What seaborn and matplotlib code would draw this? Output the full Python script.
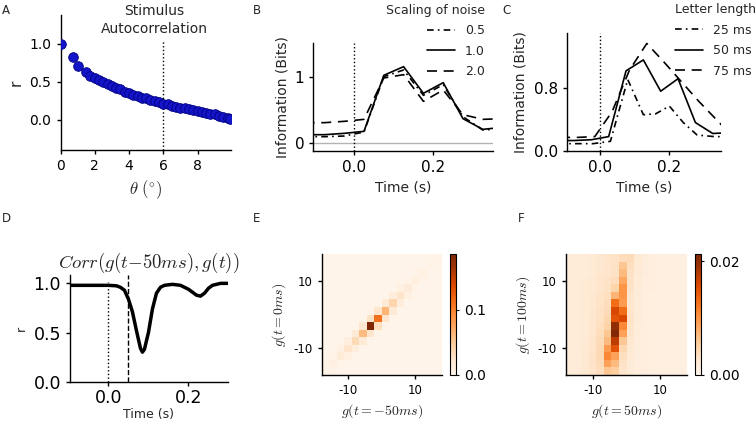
import numpy as np
import pandas as pd
import matplotlib
matplotlib.use("Agg")
import matplotlib.pyplot as plt
import seaborn as sns

# A: stimulus autocorrelation
theta_deg = [0.0, 0.75, 1.0, 1.5, 1.75, 2.0, 2.25, 2.5, 2.75, 3.0, 3.25, 3.5, 3.75,
             4.0, 4.25, 4.5, 4.75, 5.0, 5.25, 5.5, 5.75, 6.0, 6.25, 6.5, 6.75, 7.0,
             7.25, 7.5, 7.75, 8.0, 8.25, 8.5, 8.75, 9.0, 9.25, 9.5, 9.75, 9.9]
r_auto = [1.0, 0.83, 0.71, 0.63, 0.58, 0.55, 0.52, 0.50, 0.47, 0.45, 0.42, 0.40, 0.37,
          0.35, 0.33, 0.31, 0.29, 0.28, 0.26, 0.25, 0.23, 0.21, 0.20, 0.18, 0.17, 0.16,
          0.15, 0.14, 0.13, 0.12, 0.10, 0.09, 0.08, 0.07, 0.05, 0.04, 0.02, 0.01]

# B: information for different noise scalings
t_bins = [-0.125, -0.075, -0.025, 0.025, 0.075, 0.125, 0.175, 0.225, 0.275, 0.325, 0.375]
info_noise_05 = [0.10, 0.10, 0.11, 0.17, 1.00, 1.10, 0.72, 0.88, 0.40, 0.20, 0.22]
info_noise_10 = [0.13, 0.13, 0.15, 0.18, 1.02, 1.15, 0.75, 0.91, 0.37, 0.21, 0.24]
info_noise_20 = [0.31, 0.31, 0.33, 0.36, 0.98, 1.03, 0.63, 0.80, 0.43, 0.36, 0.37]

# C: information for different letter lengths
t_letter_25 = [-0.12, -0.02, 0.03, 0.08, 0.125, 0.16, 0.2, 0.24, 0.28, 0.33, 0.38]
info_letter_25 = [0.09, 0.09, 0.12, 0.91, 0.46, 0.47, 0.57, 0.36, 0.20, 0.18, 0.18]
info_letter_50 = [0.13, 0.13, 0.14, 0.18, 1.02, 1.16, 0.76, 0.92, 0.36, 0.22, 0.23]
t_letter_75 = [-0.115, -0.065, -0.015, 0.035, 0.085, 0.135, 0.185, 0.235, 0.285, 0.335, 0.385]
info_letter_75 = [0.17, 0.17, 0.18, 0.50, 1.03, 1.37, 1.13, 0.88, 0.63, 0.40, 0.17]

# D: correlation of g(t-50ms) with g(t)
t_corr = [-0.1, -0.05, 0.0, 0.02, 0.03, 0.04, 0.05, 0.06, 0.07, 0.08, 0.085, 0.09, 0.1,
          0.11, 0.12, 0.13, 0.14, 0.16, 0.18, 0.2, 0.21, 0.22, 0.23, 0.24, 0.25, 0.26,
          0.28, 0.3]
r_corr = [0.98, 0.98, 0.98, 0.975, 0.96, 0.93, 0.84, 0.71, 0.52, 0.34, 0.30, 0.33, 0.50,
          0.74, 0.90, 0.96, 0.98, 0.99, 0.98, 0.94, 0.91, 0.88, 0.87, 0.90, 0.95, 0.98,
          1.0, 1.0]

# E/F: joint histograms of g on a 16x16 grid
g_lo, g_hi, n_bins = -18.0, 18.0, 16
e_background = 0.002
e_diag = [0.005, 0.009, 0.015, 0.024, 0.035, 0.06, 0.185, 0.11, 0.065, 0.04,
          0.026, 0.016, 0.01, 0.006, 0.004, 0.003]
e_above = [0.003, 0.005, 0.008, 0.011, 0.016, 0.022, 0.028, 0.024, 0.018, 0.012,
           0.008, 0.005, 0.003, 0.002, 0.002]
e_below = [0.003, 0.005, 0.008, 0.011, 0.016, 0.024, 0.03, 0.024, 0.018, 0.012,
           0.008, 0.005, 0.003, 0.002, 0.002]

# rows from top (high g) to bottom, values x1e-4
f_rows = [
    [18, 18, 18, 20, 25, 28, 30, 38, 40, 22, 14, 12, 10, 10, 10, 10],
    [18, 18, 18, 20, 25, 28, 32, 60, 35, 20, 14, 12, 10, 10, 10, 10],
    [18, 18, 18, 20, 26, 28, 32, 70, 32, 20, 14, 12, 10, 10, 10, 10],
    [18, 18, 20, 22, 28, 30, 38, 85, 30, 18, 13, 12, 10, 10, 10, 10],
    [18, 18, 20, 22, 28, 32, 48, 100, 30, 18, 13, 12, 10, 10, 10, 10],
    [18, 18, 20, 24, 30, 35, 75, 100, 26, 16, 12, 11, 10, 10, 10, 10],
    [18, 18, 20, 24, 30, 38, 130, 95, 26, 16, 12, 11, 10, 10, 10, 10],
    [18, 18, 20, 25, 32, 40, 160, 130, 28, 16, 12, 11, 10, 10, 10, 10],
    [18, 18, 20, 25, 32, 45, 150, 160, 30, 16, 12, 11, 10, 10, 10, 10],
    [18, 18, 20, 26, 35, 50, 200, 110, 28, 15, 12, 11, 10, 10, 10, 10],
    [18, 18, 20, 26, 38, 60, 210, 90, 26, 15, 12, 11, 10, 10, 10, 10],
    [18, 18, 20, 28, 40, 70, 175, 60, 24, 14, 12, 11, 10, 10, 10, 10],
    [18, 18, 22, 28, 42, 95, 150, 45, 22, 14, 12, 11, 10, 10, 10, 10],
    [18, 18, 22, 30, 42, 110, 90, 35, 20, 14, 12, 11, 10, 10, 10, 10],
    [18, 18, 22, 30, 40, 90, 70, 30, 18, 13, 12, 11, 10, 10, 10, 10],
    [18, 18, 22, 28, 36, 60, 55, 28, 18, 13, 12, 11, 10, 10, 10, 10],
]

sns.set_style("ticks")
plt.rcParams['font.family'] = ['DejaVu Sans']
plt.rcParams['mathtext.fontset'] = 'cm'
plt.rcParams['axes.edgecolor'] = 'black'
plt.rcParams['axes.linewidth'] = 1.0
plt.rcParams['xtick.color'] = 'black'
plt.rcParams['ytick.color'] = 'black'

W, H = 756, 425
fig = plt.figure(figsize=(W / 100, H / 100), dpi=100)


def px_axes(l, r, t, b):
    return fig.add_axes([l / W, 1 - b / H, (r - l) / W, (b - t) / H])


def style_ticks(ax, size):
    ax.tick_params(labelsize=size, length=3, width=1)


dashdot = (0, (4, 2.5, 1, 2.5))
dashed = (0, (6, 4))

# ---- A
axA = px_axes(60.5, 231, 15, 150)
sns.scatterplot(x=theta_deg, y=r_auto, ax=axA, color='#1414c8', edgecolor='#000080',
                s=48, linewidth=0.6, zorder=3)
axA.axvline(6, ymax=0.81, color='k', ls=':', lw=1)
axA.set_xlim(0, 9.95)
axA.set_ylim(-0.4, 1.38)
axA.set_xticks([0, 2, 4, 6, 8])
axA.set_yticks([0.0, 0.5, 1.0])
axA.set_xlabel(r"$\theta\ (^{\circ})$", fontsize=12)
axA.set_ylabel("r", fontsize=11)
axA.text(0.548, 0.962, "Stimulus\nAutocorrelation", transform=axA.transAxes,
         ha='center', va='center', fontsize=10, linespacing=1.35)
style_ticks(axA, 10)

# ---- B
axB = px_axes(313.3, 492.7, 43.3, 150.7)
axB.axhline(0, color='0.7', lw=1)
axB.axvline(0, color='k', ls=':', lw=1)
sns.lineplot(x=t_bins, y=info_noise_05, ax=axB, color='k', lw=1.2, linestyle=dashdot, label='0.5')
sns.lineplot(x=t_bins, y=info_noise_10, ax=axB, color='k', lw=1.2, label='1.0')
sns.lineplot(x=t_bins, y=info_noise_20, ax=axB, color='k', lw=1.2, linestyle=dashed, label='2.0')
axB.set_xlim(-0.103, 0.35)
axB.set_ylim(-0.11, 1.5)
axB.set_xticks([0.0, 0.2])
axB.set_yticks([0, 1])
axB.set_xlabel("Time (s)", fontsize=10)
axB.set_ylabel("Information (Bits)", fontsize=10)
axB.legend(title="Scaling of noise", loc='upper right', bbox_to_anchor=(0.955, 1.37),
           frameon=False, fontsize=9, title_fontsize=9, handlelength=2.2,
           labelspacing=0.6, borderpad=0, borderaxespad=0, alignment='right')
style_ticks(axB, 11)

# ---- C
axC = px_axes(566.7, 720.7, 33.3, 150.7)
axC.axvline(0, color='k', ls=':', lw=1)
sns.lineplot(x=t_letter_25, y=info_letter_25, ax=axC, color='k', lw=1.2, linestyle=dashdot, label='25 ms')
sns.lineplot(x=t_bins, y=info_letter_50, ax=axC, color='k', lw=1.2, label='50 ms')
sns.lineplot(x=t_letter_75, y=info_letter_75, ax=axC, color='k', lw=1.2, linestyle=dashed, label='75 ms')
axC.set_xlim(-0.096, 0.348)
axC.set_ylim(0, 1.5)
axC.set_xticks([0.0, 0.2])
axC.set_yticks([0.0, 0.8])
axC.set_xlabel("Time (s)", fontsize=10)
axC.set_ylabel("Information (Bits)", fontsize=10)
axC.legend(title="Letter length", loc='upper left', bbox_to_anchor=(0.705, 1.258),
           frameon=False, fontsize=9, title_fontsize=9, handlelength=2.2,
           labelspacing=0.6, borderpad=0, borderaxespad=0, alignment='left')
style_ticks(axC, 11)

# ---- D
axD = px_axes(70, 227.7, 275, 381.7)
axD.axvline(0, ymax=0.93, color='k', ls=':', lw=1)
axD.axvline(0.05, color='k', ls='--', lw=1)
sns.lineplot(x=t_corr, y=r_corr, ax=axD, color='k', lw=2.5)
axD.set_xlim(-0.096, 0.298)
axD.set_ylim(0, 1.085)
axD.set_xticks([0.0, 0.2])
axD.set_yticks([0.0, 0.5, 1.0])
axD.set_xlabel("Time (s)", fontsize=9, labelpad=1)
axD.set_ylabel("r", fontsize=9)
axD.set_title(r"$Corr(g(t{-}50ms),g(t))$", fontsize=13.5, pad=3)
style_ticks(axD, 12.5)
axD.tick_params(axis='x', pad=2)

# ---- E / F heatmaps
bin_w = (g_hi - g_lo) / n_bins
e_mat = np.full((n_bins, n_bins), e_background)
for k, v in enumerate(e_diag):
    e_mat[n_bins - 1 - k, k] = v
for k, v in enumerate(e_above):
    e_mat[n_bins - 2 - k, k] = v
for k, v in enumerate(e_below):
    e_mat[n_bins - 1 - k, k + 1] = v
f_mat = np.array(f_rows) * 1e-4


def draw_joint(ax, cax, mat, vmax, cticks, clabels, xlabel, ylabel):
    sns.heatmap(pd.DataFrame(mat), ax=ax, cbar_ax=cax, cmap='Oranges', vmin=0, vmax=vmax,
                xticklabels=False, yticklabels=False)
    for side in ['left', 'bottom']:
        ax.spines[side].set_visible(True)
        ax.spines[side].set_color('black')
    ticks = np.array([-10, 10])
    ax.set_xticks((ticks - g_lo) / bin_w)
    ax.set_xticklabels(['-10', '10'])
    ax.set_yticks((g_hi - ticks) / bin_w)
    ax.set_yticklabels(['-10', '10'])
    ax.tick_params(left=True, bottom=True, labelsize=8.5, length=3, width=1)
    ax.set_xlabel(xlabel, fontsize=10)
    ax.set_ylabel(ylabel, fontsize=10)
    cb = ax.collections[0].colorbar
    cb.outline.set_visible(True)
    cb.outline.set_linewidth(0.8)
    cb.outline.set_edgecolor('black')
    cb.set_ticks(cticks)
    cb.set_ticklabels(clabels)
    cax.tick_params(labelsize=10, length=2)


axE = px_axes(321.7, 441.7, 254, 375)
caxE = px_axes(450, 456, 254, 375)
draw_joint(axE, caxE, e_mat, 0.185, [0, 0.1], ['0.0', '0.1'],
           r"$g(t{=}{-}50ms)$", r"$g(t{=}0ms)$")

axF = px_axes(566, 687, 254, 375)
caxF = px_axes(695, 701, 254, 375)
draw_joint(axF, caxF, f_mat, 0.0213, [0, 0.02], ['0.00', '0.02'],
           r"$g(t{=}50ms)$", r"$g(t{=}100ms)$")

for ax in [axA, axB, axC, axD]:
    sns.despine(ax=ax)

# panel letters
for letter, x, y in [('A', 2, 10), ('B', 253, 10), ('C', 502, 10),
                     ('D', 2, 218), ('E', 253, 218), ('F', 518, 218)]:
    fig.text(x / W, 1 - y / H, letter, fontsize=8.5, va='center', ha='left')

fig.savefig("out.png", dpi=100)
